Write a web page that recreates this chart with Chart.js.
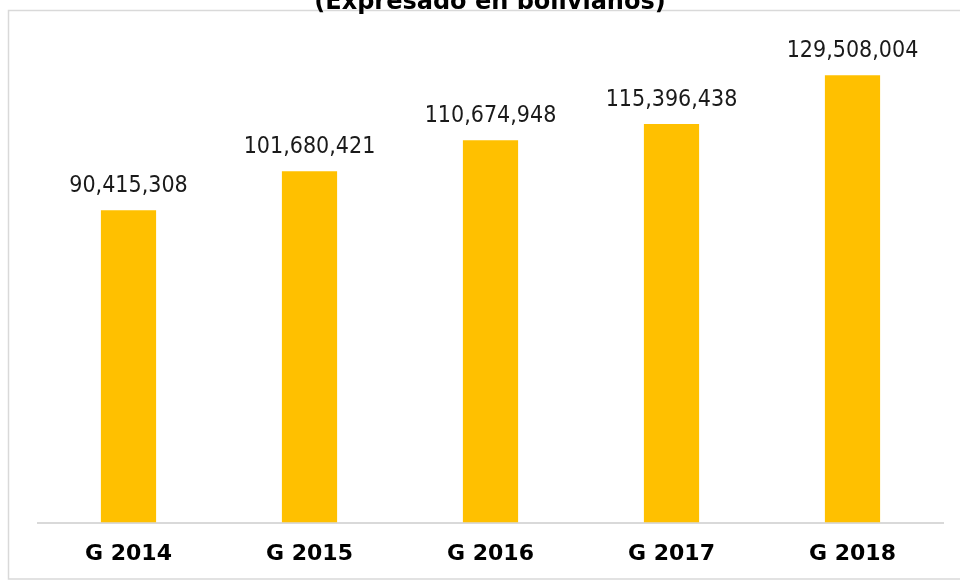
<!DOCTYPE html>
<html>
<head>
<meta charset="utf-8">
<script src="https://cdn.jsdelivr.net/npm/chart.js@4/dist/chart.umd.min.js"></script>
<style>
  html, body { margin: 0; padding: 0; background: #ffffff; }
  #wrap { width: 960px; height: 581px; position: relative; }
</style>
</head>
<body>
<div id="wrap"><canvas id="grafica" width="960" height="581"></canvas></div>
<script>
const gestiones = ['G 2014', 'G 2015', 'G 2016', 'G 2017', 'G 2018'];
const montos = [90415308, 101680421, 110674948, 115396438, 129508004];
const titulo = '(Expresado en bolivianos)';

// marco gris y titulo (el titulo queda cortado arriba)
const marco = {
    id: 'marco',
    beforeDraw(chart) {
        const ctx = chart.ctx;
        ctx.save();
        ctx.strokeStyle = '#d9d9d9';
        ctx.lineWidth = 1.5;
        ctx.strokeRect(8.5, 10.5, 1000, 568.5);
        ctx.fillStyle = '#000000';
        ctx.font = 'bold 24px "DejaVu Sans"';
        ctx.textAlign = 'center';
        ctx.textBaseline = 'alphabetic';
        ctx.fillText(titulo, 490, 9);
        ctx.restore();
    }
};

// montos encima de cada barra
const etiquetas = {
    id: 'etiquetas',
    afterDatasetsDraw(chart) {
        const ctx = chart.ctx;
        const meta = chart.getDatasetMeta(0);
        ctx.save();
        ctx.fillStyle = '#1a1a1a';
        ctx.font = '23px "DejaVu Sans Condensed"';
        ctx.textAlign = 'center';
        ctx.textBaseline = 'alphabetic';
        meta.data.forEach((bar, i) => {
            ctx.fillText(montos[i].toLocaleString('en-US'), bar.x, bar.y - 18);
        });
        ctx.restore();
    }
};

new Chart(document.getElementById('grafica'), {
    type: 'bar',
    data: {
        labels: gestiones,
        datasets: [{
            data: montos,
            backgroundColor: '#FFC000',
            borderWidth: 0,
            categoryPercentage: 1,
            barPercentage: 0.305
        }]
    },
    options: {
        responsive: false,
        animation: false,
        layout: { padding: { left: 38, right: 17, top: 39, bottom: -4 } },
        plugins: {
            legend: { display: false },
            tooltip: { enabled: false }
        },
        scales: {
            x: {
                grid: { display: false, drawTicks: false },
                border: { color: '#d9d9d9', width: 2 },
                ticks: {
                    color: '#000000',
                    padding: 18,
                    font: { family: 'DejaVu Sans', weight: 'bold', size: 22 }
                }
            },
            y: {
                display: false,
                min: 0,
                max: 140000000
            }
        }
    },
    plugins: [marco, etiquetas]
});
</script>
</body>
</html>
